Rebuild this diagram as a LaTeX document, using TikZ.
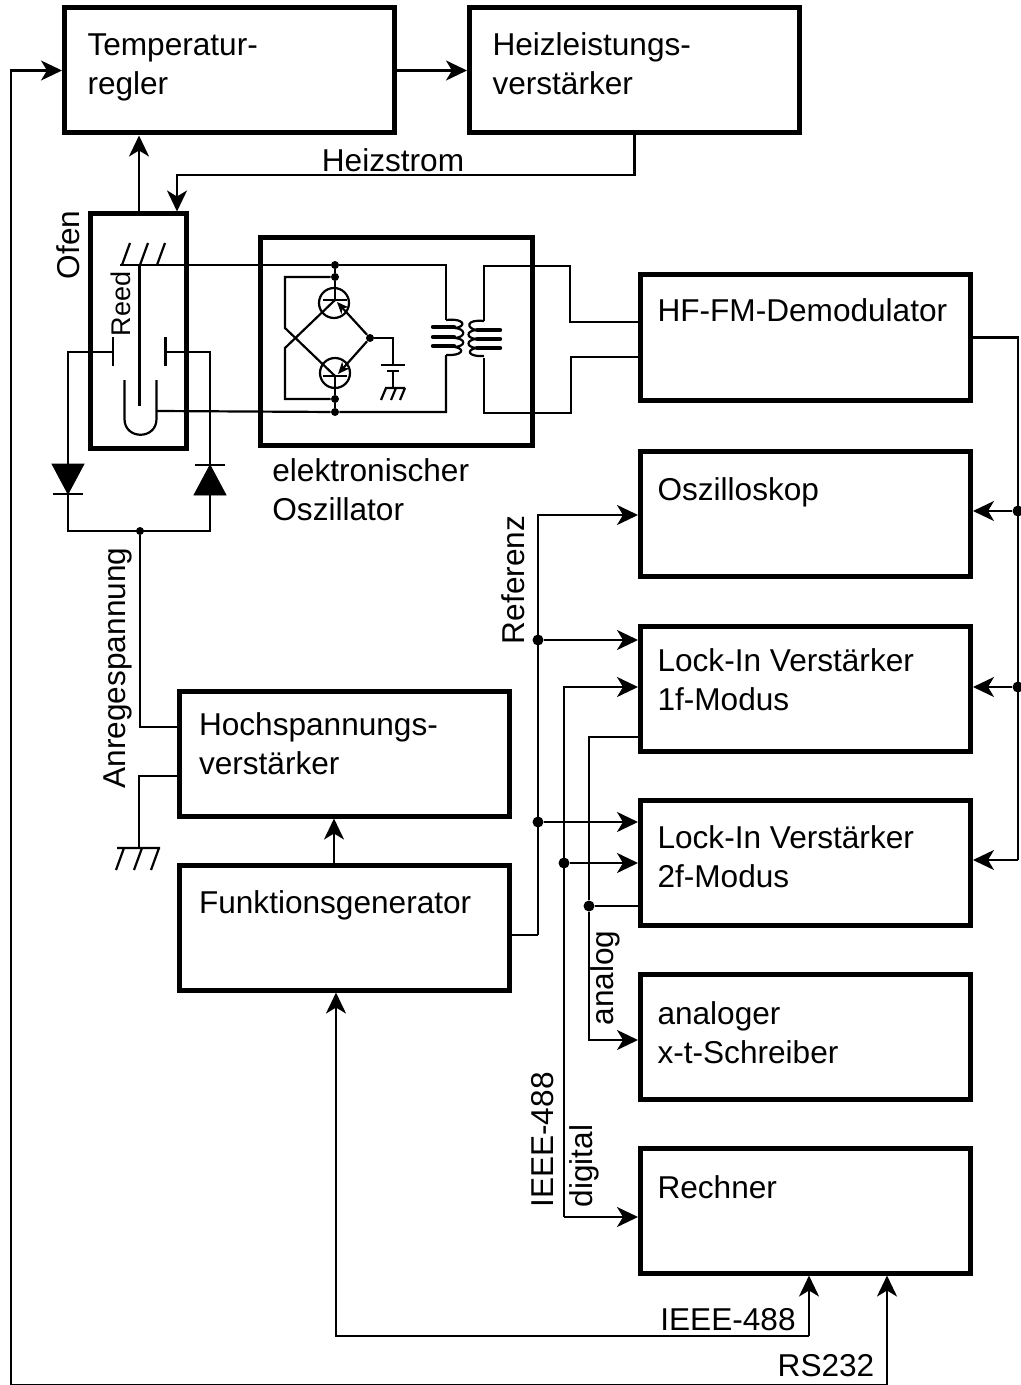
\documentclass[tikz,border=0pt]{standalone}
\usepackage{fontspec}
\setmainfont{Liberation Sans}
\usepackage{tikz}
\usetikzlibrary{arrows.meta,positioning,calc}
\newcommand{\blocktext}[3][8.5pt]{\parbox[c][62.5pt][t]{165pt}{\raggedright\leftskip=#1\rule{0pt}{#2}#3}}

\begin{document}
\begin{tikzpicture}[x=0.5pt, y=-0.5pt, node distance=22pt, font=\fontsize{15.8}{19.5}\selectfont]
  \tikzstyle{block} = [rectangle, draw=black, inner sep=0pt, minimum width=165pt, minimum height=62.5pt, line width=2.5pt]
  \tikzstyle{frame} = [rectangle, draw=black, inner sep=0pt, line width=2.5pt]
  \tikzstyle{wire} = [draw=black, line width=1.1pt]
  \tikzstyle{line} = [draw=black, line width=1.1pt, -{Stealth[length=10.5pt,width=10pt,inset=3pt]}]
  \tikzstyle{junction} = [circle, fill=black, inner sep=0pt, minimum size=5.5pt]
  \tikzstyle{smalldot} = [circle, fill=black, inner sep=0pt, minimum size=4pt]
  \tikzstyle{valve} = [circle, draw=black, line width=1.1pt, inner sep=0pt, minimum size=15pt]
  \tikzstyle{coilbar} = [draw=black, line width=2.2pt, line cap=round]
  \tikzstyle{tag} = [inner sep=0pt, align=left]

  \useasboundingbox (0,0) rectangle (1021,1385);

  \node [block] (regler) at (229.5,70.5) {\blocktext[11.5pt]{24pt}{Temperatur-\\regler}};
  \node [block, right=35pt of regler] (heizer) {\blocktext[11.5pt]{24pt}{Heizleistungs-\\verstärker}};
  \node [frame, minimum width=48pt, minimum height=117pt] (ofen) at (138,331) {};
  \node [frame, minimum width=136pt, minimum height=103.5pt] (oszillator) at (396,341.5) {};
  \node [block] (demod) at (805.5,337.5) {\blocktext{23.5pt}{HF-FM-Demodulator}};
  \node [block, below=23pt of demod] (oszi) {\blocktext{24.5pt}{Oszilloskop}};
  \node [block, below=22.5pt of oszi] (lockone) {\blocktext{22.5pt}{Lock-In Verstärker\\1f-Modus}};
  \node [block, below=of lockone] (locktwo) {\blocktext{24pt}{Lock-In Verstärker\\2f-Modus}};
  \node [block, below=of locktwo] (schreiber) {\blocktext{25pt}{analoger\\x-t-Schreiber}};
  \node [block, below=of schreiber] (rechner) {\blocktext{25pt}{Rechner}};
  \node [block] (hochsp) at (344,753.5) {\blocktext[10pt]{22pt}{Hochspannungs-\\verstärker}};
  \node [block, below=of hochsp] (funkgen) {\blocktext[10pt]{24pt}{Funktionsgenerator}};

  \node [tag] (heizstrom) at (393,160) {Heizstrom};
  \node [tag, rotate=90] (ofenlabel) at (68,245) {Ofen};
  \node [tag, rotate=90, font=\fontsize{13.5}{15}\selectfont] (reedlabel) at (121,304) {Reed};
  \node [tag, anchor=north west] (osclabel) at (272,458) {elektronischer\\Oszillator};
  \node [tag, rotate=90] (referenz) at (513,580) {Referenz};
  \node [tag, rotate=90] (anregung) at (118,668) {Anregespannung};
  \node [tag, rotate=90] (analog) at (605,978) {analog};
  \node [tag, rotate=90] (ieeeup) at (543,1140) {IEEE-488};
  \node [tag, rotate=90] (digital) at (584,1166) {digital};
  \node [tag] (ieeedown) at (728,1320) {IEEE-488};
  \node [tag] (rslabel) at (826,1366) {RS232};

  \path [line] (regler) -- (heizer);
  \path [line] (ofen.north -| 139,0) -- (regler.south -| 139,0);
  \coordinate (heizbend) at (177,175);
  \path [line] (heizer.south) -- (heizer.south |- heizbend) -- (heizbend) -- (heizbend |- ofen.north);

  \coordinate (rsfoot) at (887,1385);
  \coordinate (rsleft) at (11,1385);
  \path [line] (rsfoot) -- (rsleft) -- (rsleft |- regler) -- (regler.west);
  \path [line] (rsfoot) -- (rsfoot |- rechner.south);
  \coordinate (ieeefoot) at (336,1336);
  \coordinate (ieeeright) at (809,1336);
  \path [line] (ieeeright) -- (ieeefoot) -- (ieeefoot |- funkgen.south);
  \path [line] (ieeeright) -- (ieeeright |- rechner.south);

  \path [line] (funkgen.north -| 334,0) -- (hochsp.south -| 334,0);
  \coordinate (refbus) at (538,935);
  \coordinate (reftop) at (538,515);
  \node [junction] (refone) at (538,640) {};
  \node [junction] (reftwo) at (538,822) {};
  \path [wire] (funkgen.east |- refbus) -- (refbus);
  \path [line] (refbus) -- (reftop) -- (oszi.west |- reftop);
  \path [line] (refone) -- (lockone.west |- refone);
  \path [line] (reftwo) -- (locktwo.west |- reftwo);

  \coordinate (ieeetop) at (564,687);
  \coordinate (ieeelow) at (564,1217);
  \node [junction] (ieeedot) at (564,863) {};
  \path [line] (ieeelow) -- (ieeetop) -- (lockone.west |- ieeetop);
  \path [line] (ieeelow) -- (rechner.west |- ieeelow);
  \path [line] (ieeedot) -- (locktwo.west |- ieeedot);

  \coordinate (anatop) at (589,737);
  \coordinate (analow) at (589,1040);
  \node [junction] (anadot) at (589,906) {};
  \path [wire] (lockone.west |- anatop) -- (anatop) -- (anadot);
  \path [wire] (locktwo.west |- anadot) -- (anadot);
  \path [line] (anadot) -- (analow) -- (schreiber.west |- analow);

  \coordinate (demodlow) at (1018,860);
  \node [junction] (demodone) at (1018,511) {};
  \node [junction] (demodtwo) at (1018,687) {};
  \path [wire] (demod.east) -- (demod.east -| demodlow) -- (demodlow);
  \path [line] (demodlow) -- (locktwo.east |- demodlow);
  \path [line] (demodone) -- (oszi.east |- demodone);
  \path [line] (demodtwo) -- (lockone.east |- demodtwo);

  \node [smalldot] (topa) at (335,265) {};
  \node [smalldot] (topb) at (335,277) {};
  \node [smalldot] (lowa) at (335,399) {};
  \node [smalldot] (lowb) at (335,412) {};
  \node [smalldot] (mid) at (370,338) {};
  \node [valve] (trtop) at (334,303) {};
  \node [valve] (trlow) at (335,373) {};

  \path [wire] (120,265) -- (topa) -- (446,265) -- (446,320);
  \path [wire] (122,265) -- (130,243) (140,265) -- (148,243) (157,265) -- (165,243);
  \path [wire] (139.5,265) -- (139.5,406);
  \path [wire] (124.5,380) -- (124.5,419) .. controls (124.5,440) and (156.5,440) .. (156.5,419) -- (156.5,380);
  \path [wire] (156.5,411) -- (lowb) -- (446,412) -- (446,355);
  \path [wire] (113,337) -- (113,366) (113,352) -- (68,352) -- (68,531) -- (210,531) -- (210,352) -- (165.5,352) (165.5,337) -- (165.5,366);
  \path [draw=black, fill=black] (52,464) -- (84,464) -- (68,494) -- cycle;
  \path [wire] (53,494) -- (83,494);
  \path [draw=black, fill=black] (194,495) -- (226,495) -- (210,465) -- cycle;
  \path [wire] (195,465) -- (225,465);
  \node [smalldot] (anreg) at (140,531) {};
  \coordinate (erde) at (139,848);
  \path [wire] (anreg) -- (140,727) -- (hochsp.west |- 0,727);
  \path [wire] (hochsp.west |- 0,776) -- (139,776) -- (erde);
  \path [wire] (117,848) -- (160,848) (116,870) -- (124,848) (134,870) -- (142,848) (151,870) -- (159,848);

  \path [wire] (topa) -- (topb) -- (335,300);
  \path [wire] (335,376) -- (lowa) -- (lowb);
  \path [wire] (323,300) -- (347,300) (323,376) -- (347,376);
  \path [wire] (topb) -- (285,277) -- (285,328) -- (335,376);
  \path [wire] (lowa) -- (285,399) -- (285,348) -- (335,300);
  \path [draw=black, line width=1.1pt, -{Stealth[length=6pt,width=5pt]}] (mid) -- (337,302);
  \path [draw=black, line width=1.1pt, -{Stealth[length=6pt,width=5pt]}] (mid) -- (338,374);
  \path [wire] (mid) -- (393,338) -- (393,365) (381,365) -- (405,365) (387,371) -- (399,371) (393,371) -- (393,388);
  \path [wire] (385,388) -- (405,388) (381,400) -- (386,388) (391,400) -- (396,388) (400,400) -- (405,388);

  \foreach \y in {327,337,346} {
    \path [coilbar] (433,\y) -- (454,\y);
  }
  \foreach \y in {330,339,348} {
    \path [coilbar] (477,\y) -- (500,\y);
  }
  \path [wire] (446,320) .. controls (466,318) and (466,327) .. (455,328) .. controls (466,329) and (466,337) .. (455,338) .. controls (466,339) and (466,346) .. (455,347) .. controls (466,349) and (462,356) .. (446,355);
  \path [wire] (484,321) .. controls (466,319) and (466,328) .. (476,330) .. controls (466,331) and (466,338) .. (476,339) .. controls (466,340) and (466,347) .. (476,348) .. controls (466,350) and (468,357) .. (484,356);

  \path [wire] (484,321) -- (484,266) -- (570,266) -- (570,322) -- (demod.west |- 0,322);
  \path [wire] (484,358) -- (484,413) -- (571,413) -- (571,357) -- (demod.west |- 0,357);
\end{tikzpicture}
\end{document}
